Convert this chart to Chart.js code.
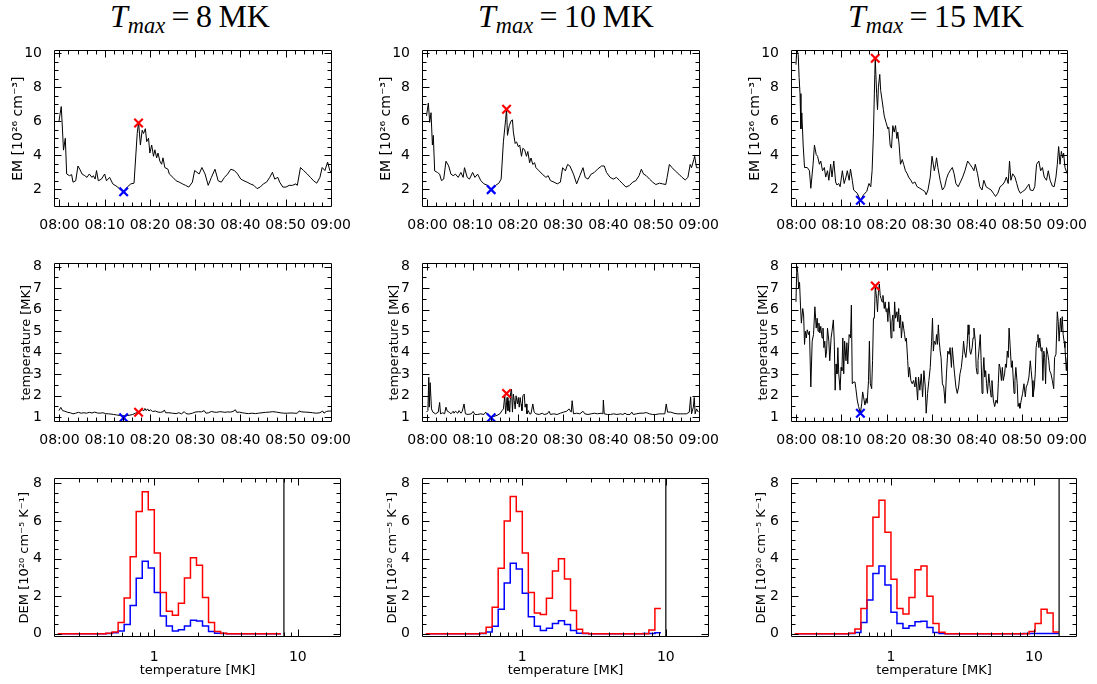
<!DOCTYPE html>
<html lang="es">
<head>
<meta charset="utf-8">
<title>EM, temperatura y DEM</title>
<script src="https://cdn.jsdelivr.net/npm/chart.js@4.4.1/dist/chart.umd.min.js"></script>
<style>
  html, body { margin: 0; padding: 0; background: #fff; }
  #figura { position: relative; width: 1097px; height: 684px; overflow: hidden; background: #fff; }
  #figura canvas { position: absolute; }
  .titulo {
    position: absolute; top: -2px; width: 300px; text-align: center; white-space: nowrap;
    font-family: "Liberation Serif", "DejaVu Serif", serif; font-size: 32px; line-height: 36px; color: #000;
  }
  .titulo sub { font-size: 0.7em; line-height: 0; vertical-align: -0.25em; }
</style>
</head>
<body>
<div id="figura"></div>
<script>
// ---------------- datos ----------------
const tmaxMK = [8, 10, 15];

const horaTicks = [0, 10, 20, 30, 40, 50, 60];          // minutos desde las 08:00
const horaEtiquetas = ["08:00", "08:10", "08:20", "08:30", "08:40", "08:50", "09:00"];
const emTicks = [2, 4, 6, 8, 10];
const tempTicks = [1, 2, 3, 4, 5, 6, 7, 8];
const demTicks = [0, 2, 4, 6, 8];
const demTempTicks = [1, 10];
const demTempMenor = [0.3, 0.4, 0.5, 0.6, 0.7, 0.8, 0.9, 2, 3, 4, 5, 6, 7, 8, 9, 20];

// EM [1e26 cm^-3]
const emHora8 = [
  -0.1, 0.4, 0.6, 0.9, 1.3, 1.6, 2.2, 2.7, 3.0, 3.6,
  4.1, 4.5, 5.0, 5.6, 6.1, 6.6, 7.2, 7.5, 7.9, 8.2,
  8.6, 9.3, 10.0, 10.4, 11.1, 11.8, 12.9, 13.6, 14.2, 15.0,
  15.8, 16.5, 17.2, 17.5, 17.9, 18.3, 18.6, 19.0, 19.3, 19.7,
  20.0, 20.4, 20.8, 21.1, 21.5, 21.8, 22.2, 22.6, 22.9, 23.3,
  24.0, 24.3, 25.1, 25.8, 26.5, 27.2, 27.9, 28.6, 29.4, 29.9,
  30.4, 30.9, 31.5, 32.2, 32.9, 33.6, 34.4, 35.1, 35.8, 36.5,
  37.2, 37.9, 38.7, 39.4, 40.1, 40.8, 41.5, 42.2, 43.0, 43.7,
  44.4, 45.1, 45.8, 46.5, 47.1, 47.6, 48.3, 48.7, 49.4, 50.1,
  50.8, 51.5, 52.3, 52.6, 53.3, 54.0, 54.8, 55.5, 56.2, 56.9,
  57.6, 58.1, 58.7, 59.3, 59.8, 60.1
];
const em8 = [
  6.0, 6.86, 5.9, 4.3, 5.0, 2.9, 2.8, 2.86, 2.42, 2.5,
  3.37, 3.18, 2.9, 2.8, 2.7, 2.9, 2.7, 2.8, 2.6, 3.1,
  2.5, 2.6, 2.9, 2.5, 2.7, 2.32, 2.13, 1.94, 1.85, 2.13,
  2.32, 2.36, 5.28, 5.94, 4.6, 5.47, 5.28, 5.56, 4.8, 5.0,
  4.13, 4.6, 3.94, 4.32, 3.85, 4.13, 3.66, 3.47, 3.85, 3.28,
  3.18, 2.9, 2.7, 2.5, 2.42, 2.32, 2.23, 2.13, 2.42, 3.1,
  3.0, 2.9, 3.28, 2.9, 2.23, 2.7, 3.18, 2.5, 2.42, 2.7,
  2.9, 3.18, 3.1, 2.9, 2.6, 2.5, 2.42, 2.32, 2.23, 2.04,
  2.13, 2.32, 2.42, 2.7, 3.0, 2.6, 2.7, 2.42, 2.13, 2.13,
  2.23, 2.23, 2.32, 2.23, 3.28, 3.1, 2.9, 2.7, 2.5, 2.36,
  2.7, 3.28, 3.1, 3.6, 3.1, 3.0
];
const emHora10 = [
  -0.2, 0.2, 0.5, 0.8, 1.1, 1.3, 1.6, 2.2, 2.7, 3.1,
  3.6, 4.1, 4.7, 5.2, 5.7, 6.2, 6.8, 7.4, 7.9, 8.2,
  8.8, 9.3, 10.0, 10.5, 11.1, 11.8, 12.5, 13.3, 14.1, 15.1,
  15.8, 16.3, 16.8, 17.3, 17.5, 17.7, 18.1, 18.5, 18.8, 19.0,
  19.4, 19.7, 20.1, 20.4, 20.8, 21.1, 21.5, 21.9, 22.2, 22.6,
  22.9, 23.3, 23.7, 24.0, 24.7, 25.4, 26.2, 26.7, 27.2, 28.0,
  28.7, 29.4, 29.9, 30.5, 31.0, 31.5, 32.3, 33.0, 33.7, 34.4,
  34.9, 35.5, 36.2, 36.9, 37.6, 38.5, 39.1, 39.6, 40.4, 41.1,
  41.8, 42.5, 43.2, 43.9, 44.7, 45.4, 46.1, 46.8, 47.3, 47.8,
  48.4, 49.1, 49.8, 50.5, 51.3, 52.0, 52.7, 53.0, 53.5, 54.1,
  54.8, 55.6, 56.3, 57.0, 57.6, 58.1, 58.4, 58.9, 59.1, 59.5,
  60.0
];
const em10 = [
  6.31, 7.07, 5.93, 6.5, 4.6, 5.17, 3.08, 2.99, 2.89, 2.51,
  2.6, 3.65, 3.37, 2.89, 2.8, 2.89, 2.7, 2.99, 2.7, 3.27,
  2.7, 2.6, 2.99, 2.7, 2.89, 2.51, 2.32, 2.23, 1.98, 2.23,
  2.36, 2.6, 4.79, 6.12, 6.72, 5.17, 5.74, 6.02, 6.08, 5.36,
  4.69, 4.79, 4.5, 4.6, 3.94, 4.41, 4.32, 3.94, 4.22, 3.56,
  3.84, 3.46, 3.56, 3.27, 3.08, 2.89, 2.7, 2.8, 2.51, 2.42,
  2.32, 2.42, 3.27, 3.08, 3.46, 3.37, 2.89, 2.32, 2.8, 3.27,
  2.7, 2.6, 2.89, 2.99, 3.18, 3.37, 3.37, 2.99, 2.7, 2.6,
  2.7, 2.51, 2.32, 2.13, 2.23, 2.42, 2.51, 2.8, 3.18, 2.89,
  2.8, 2.6, 2.42, 2.28, 2.36, 2.32, 2.28, 2.7, 3.46, 3.27,
  3.08, 2.89, 2.7, 2.55, 2.7, 3.46, 3.27, 3.75, 3.94, 3.27,
  3.27
];
const emHora15 = [
  -0.1, 0.1, 0.4, 0.6, 0.8, 1.0, 1.2, 1.5, 1.8, 2.4,
  2.9, 3.2, 3.7, 4.0, 4.4, 4.7, 5.1, 5.4, 5.8, 6.2,
  6.5, 6.9, 7.2, 7.6, 7.9, 8.3, 8.7, 9.0, 9.4, 9.7,
  10.2, 10.6, 11.0, 11.3, 11.7, 12.0, 12.4, 12.7, 13.5, 14.2,
  14.9, 15.6, 16.1, 16.5, 16.8, 17.1, 17.4, 17.5, 17.8, 18.0,
  18.2, 18.5, 18.7, 19.0, 19.3, 19.5, 19.9, 20.3, 20.5, 20.8,
  21.1, 21.4, 21.7, 22.0, 22.3, 22.5, 22.8, 23.1, 23.5, 23.8,
  24.2, 24.6, 24.9, 25.4, 25.8, 26.3, 26.8, 27.4, 28.0, 28.5,
  28.8, 29.2, 29.7, 30.1, 30.6, 30.9, 31.1, 31.4, 31.9, 32.4,
  32.9, 33.3, 33.7, 34.1, 34.6, 35.0, 35.4, 35.9, 36.4, 36.9,
  37.4, 38.0, 38.5, 39.0, 39.4, 39.7, 40.2, 40.7, 41.2, 41.6,
  42.1, 42.6, 43.2, 43.7, 44.2, 44.7, 45.2, 45.7, 46.2, 46.6,
  47.0, 47.3, 47.6, 48.0, 48.5, 48.9, 49.3, 49.7, 50.2, 50.7,
  51.2, 51.6, 51.9, 52.5, 52.9, 53.3, 53.8, 54.2, 54.6, 55.0,
  55.5, 55.9, 56.3, 56.8, 57.2, 57.6, 57.9, 58.2, 58.5, 58.8,
  59.1, 59.3, 59.6, 60.1
];
const em15 = [
  9.32, 10.3, 9.9, 8.57, 7.62, 5.55, 6.49, 4.6, 3.28, 3.28,
  3.09, 2.06, 3.47, 4.6, 4.04, 3.94, 3.47, 3.66, 3.09, 3.28,
  2.72, 3.09, 2.53, 3.47, 2.72, 3.66, 2.43, 2.25, 2.34, 2.15,
  3.09, 2.34, 2.72, 3.09, 2.53, 3.19, 2.53, 1.96, 1.77, 1.36,
  1.68, 1.87, 2.34, 2.15, 3.09, 5.36, 8.75, 9.7, 7.62, 6.68,
  8.0, 8.75, 7.81, 7.25, 6.68, 6.3, 5.92, 5.55, 5.64, 4.6,
  4.42, 5.74, 5.36, 5.74, 4.98, 5.36, 4.6, 3.47, 3.75, 3.47,
  3.09, 2.91, 2.72, 2.53, 2.34, 2.43, 2.15, 2.06, 1.96, 1.87,
  1.68, 1.96, 2.72, 3.94, 3.09, 3.47, 3.85, 3.28, 2.53, 1.96,
  2.15, 2.62, 2.91, 3.09, 3.28, 2.91, 2.34, 2.15, 2.43, 2.72,
  3.09, 3.66, 3.47, 3.28, 3.09, 3.47, 2.91, 2.15, 1.96, 2.53,
  2.15, 2.06, 1.96, 1.77, 1.58, 1.77, 2.15, 2.25, 2.43, 2.72,
  2.34, 3.66, 2.53, 2.91, 2.72, 2.34, 1.96, 1.77, 1.87, 1.96,
  2.15, 2.3, 1.96, 1.92, 2.15, 3.47, 3.66, 3.09, 3.28, 2.72,
  2.53, 3.09, 2.53, 2.19, 2.15, 2.72, 3.47, 4.51, 3.47, 4.23,
  3.85, 4.13, 3.28, 2.91
];

// temperatura [MK]
const tempHora8 = [
  -0.1, 0.3, 0.7, 1.2, 1.8, 2.4, 3.0, 3.6, 4.2, 4.8,
  5.4, 6.0, 6.6, 7.2, 7.8, 8.4, 9.0, 9.6, 10.2, 10.8,
  11.4, 12.0, 12.6, 13.2, 13.8, 14.4, 15.0, 15.6, 16.2, 16.8,
  17.5, 18.0, 18.3, 18.6, 18.9, 19.2, 19.5, 19.8, 20.1, 20.6,
  21.2, 21.8, 22.4, 23.0, 23.2, 23.5, 24.2, 25.0, 25.8, 26.4,
  27.0, 27.6, 28.0, 28.6, 29.4, 30.0, 30.8, 31.4, 32.0, 32.4,
  33.0, 33.6, 34.2, 34.8, 35.4, 36.0, 36.6, 37.2, 37.8, 38.4,
  38.9, 39.2, 39.8, 40.4, 41.0, 41.8, 42.6, 43.4, 44.0, 44.8,
  45.6, 46.4, 47.2, 48.0, 48.8, 49.6, 50.4, 51.2, 52.0, 52.6,
  53.0, 53.6, 54.4, 55.2, 56.0, 56.8, 57.6, 58.2, 58.5, 59.0,
  59.6, 60.1
];
const temp8 = [
  1.3, 1.45, 1.3, 1.27, 1.22, 1.2, 1.15, 1.18, 1.22, 1.18,
  1.2, 1.18, 1.22, 1.19, 1.23, 1.19, 1.18, 1.2, 1.16, 1.15,
  1.14, 1.12, 1.1, 1.08, 1.06, 1.06, 1.07, 1.09, 1.12, 1.18,
  1.23, 1.28, 1.36, 1.28, 1.4, 1.3, 1.38, 1.28, 1.34, 1.26,
  1.28, 1.23, 1.22, 1.26, 1.33, 1.2, 1.2, 1.18, 1.16, 1.2,
  1.15, 1.25, 1.16, 1.14, 1.18, 1.23, 1.25, 1.24, 1.3, 1.18,
  1.2, 1.26, 1.23, 1.22, 1.25, 1.24, 1.22, 1.24, 1.23, 1.26,
  1.34, 1.22, 1.23, 1.2, 1.18, 1.16, 1.18, 1.16, 1.18, 1.2,
  1.22, 1.23, 1.25, 1.23, 1.2, 1.18, 1.18, 1.19, 1.18, 1.18,
  1.28, 1.24, 1.23, 1.22, 1.2, 1.18, 1.2, 1.28, 1.18, 1.26,
  1.28, 1.28
];
const tempHora10 = [
  -0.2, 0.1, 0.3, 0.4, 0.6, 0.9, 1.2, 1.8, 2.4, 2.7,
  2.9, 3.4, 3.8, 4.1, 4.4, 4.8, 5.2, 5.7, 5.9, 6.2,
  6.7, 7.0, 7.4, 7.7, 8.1, 8.4, 9.0, 9.7, 10.1, 10.5,
  11.1, 11.8, 12.5, 12.9, 13.4, 14.0, 14.7, 15.4, 16.0, 16.5,
  16.8, 17.1, 17.3, 17.6, 17.8, 18.0, 18.2, 18.4, 18.6, 18.8,
  19.0, 19.2, 19.4, 19.6, 19.9, 20.1, 20.3, 20.5, 20.7, 20.9,
  21.1, 21.4, 21.6, 21.8, 22.0, 22.3, 22.6, 22.9, 23.3, 23.6,
  24.0, 24.7, 25.4, 25.8, 26.5, 26.9, 27.2, 27.9, 28.7, 29.4,
  30.1, 30.8, 31.3, 31.8, 32.0, 32.3, 33.0, 33.7, 34.4, 34.8,
  35.5, 36.2, 36.9, 37.6, 38.4, 38.8, 38.9, 39.1, 39.8, 40.5,
  41.2, 41.9, 42.7, 43.2, 43.7, 44.1, 44.8, 45.2, 45.5, 46.2,
  47.0, 47.7, 48.4, 49.1, 49.8, 50.5, 51.3, 52.0, 52.5, 52.8,
  53.1, 53.8, 54.5, 55.2, 55.9, 56.6, 57.3, 57.9, 58.2, 58.4,
  58.8, 59.0, 59.2, 59.5, 59.9
];
const temp10 = [
  1.23, 1.3, 2.85, 1.46, 2.6, 1.38, 1.23, 1.15, 1.23, 1.68,
  1.15, 1.2, 1.15, 1.46, 1.27, 1.23, 1.15, 1.27, 1.18, 1.27,
  1.18, 1.3, 1.18, 1.27, 1.61, 1.15, 1.12, 1.15, 1.26, 1.12,
  1.12, 1.15, 1.12, 1.23, 1.08, 1.03, 1.03, 1.08, 1.15, 1.3,
  1.38, 1.99, 1.15, 1.91, 1.3, 1.76, 1.23, 2.14, 2.29, 1.23,
  2.07, 1.76, 1.38, 1.99, 1.61, 1.91, 1.46, 1.91, 1.61, 1.3,
  1.99, 2.07, 1.46, 1.61, 1.15, 1.3, 1.15, 1.15, 1.61, 1.23,
  1.15, 1.12, 1.18, 1.12, 1.15, 1.27, 1.12, 1.15, 1.12, 1.18,
  1.23, 1.27, 1.38, 1.23, 1.76, 1.15, 1.18, 1.15, 1.27, 1.15,
  1.12, 1.15, 1.18, 1.15, 1.18, 1.15, 1.79, 1.15, 1.12, 1.12,
  1.15, 1.12, 1.15, 1.12, 1.18, 1.12, 1.12, 1.23, 1.12, 1.15,
  1.18, 1.18, 1.21, 1.15, 1.12, 1.12, 1.15, 1.15, 1.15, 1.61,
  1.23, 1.23, 1.18, 1.15, 1.15, 1.15, 1.15, 1.23, 1.94, 1.15,
  1.46, 1.91, 1.15, 1.38, 1.23
];
const tempHora15 = [
  -0.1, 0.1, 0.3, 0.5, 0.7, 0.9, 1.1, 1.4, 1.6, 1.8,
  2.0, 2.2, 2.4, 2.7, 2.9, 3.2, 3.5, 3.8, 4.1, 4.4,
  4.6, 4.8, 5.0, 5.2, 5.4, 5.7, 5.9, 6.1, 6.3, 6.5,
  6.7, 6.9, 7.2, 7.4, 7.7, 7.9, 8.2, 8.4, 8.6, 8.8,
  9.0, 9.2, 9.4, 9.7, 9.9, 10.1, 10.3, 10.5, 10.7, 11.0,
  11.2, 11.4, 11.7, 12.0, 12.2, 12.4, 12.7, 13.0, 13.2, 13.5,
  13.8, 14.2, 14.5, 14.7, 14.9, 15.2, 15.5, 15.7, 16.0, 16.2,
  16.4, 16.7, 16.9, 17.1, 17.3, 17.5, 17.8, 18.0, 18.2, 18.4,
  18.6, 18.8, 19.0, 19.2, 19.5, 19.7, 19.9, 20.1, 20.3, 20.5,
  20.8, 21.0, 21.2, 21.4, 21.6, 21.8, 22.0, 22.3, 22.5, 22.7,
  22.9, 23.1, 23.3, 23.6, 23.8, 24.0, 24.2, 24.4, 24.7, 24.9,
  25.1, 25.4, 25.7, 26.0, 26.3, 26.5, 26.7, 26.9, 27.1, 27.4,
  27.7, 28.0, 28.3, 28.6, 28.8, 29.1, 29.4, 29.7, 30.0, 30.2,
  30.4, 30.6, 30.9, 31.1, 31.3, 31.5, 31.7, 31.9, 32.1, 32.4,
  32.7, 33.0, 33.3, 33.6, 33.9, 34.1, 34.4, 34.6, 34.9, 35.1,
  35.4, 35.7, 36.0, 36.3, 36.6, 36.9, 37.1, 37.3, 37.6, 37.9,
  38.1, 38.3, 38.5, 38.7, 39.0, 39.2, 39.4, 39.7, 39.9, 40.1,
  40.3, 40.5, 40.8, 41.0, 41.2, 41.4, 41.6, 41.8, 42.0, 42.2,
  42.4, 42.7, 42.9, 43.2, 43.4, 43.7, 44.0, 44.3, 44.6, 44.8,
  45.0, 45.2, 45.5, 45.7, 45.9, 46.2, 46.4, 46.6, 46.8, 47.0,
  47.2, 47.5, 47.7, 47.9, 48.1, 48.3, 48.5, 48.7, 49.0, 49.2,
  49.4, 49.6, 49.9, 50.2, 50.5, 50.8, 51.0, 51.3, 51.6, 51.9,
  52.1, 52.3, 52.5, 52.8, 53.0, 53.2, 53.4, 53.6, 53.8, 54.0,
  54.3, 54.5, 54.7, 54.9, 55.1, 55.3, 55.5, 55.8, 56.0, 56.2,
  56.5, 56.8, 57.1, 57.3, 57.6, 57.9, 58.1, 58.3, 58.6, 58.8,
  59.0, 59.2, 59.4, 59.6, 59.9, 60.1
];
const temp15 = [
  6.36, 8.03, 7.73, 6.97, 7.27, 6.21, 5.37, 6.05, 5.75, 4.38,
  4.99, 4.68, 5.06, 4.84, 4.99, 2.4, 4.53, 4.84, 6.13, 5.14,
  5.6, 4.99, 5.37, 4.91, 5.22, 4.68, 5.14, 4.23, 4.53, 3.77,
  4.07, 5.14, 4.53, 3.62, 4.68, 4.99, 5.52, 4.53, 2.25, 3.47,
  3.01, 4.23, 3.01, 2.25, 3.31, 3.16, 4.68, 3.01, 4.53, 3.62,
  4.46, 3.47, 4.84, 4.68, 6.21, 2.55, 2.63, 2.63, 2.32, 1.79,
  1.49, 1.18, 1.64, 2.17, 1.94, 1.56, 1.87, 1.64, 2.7, 4.53,
  2.55, 2.32, 3.62, 5.6, 5.6, 7.12, 6.51, 5.9, 6.81, 7.19,
  6.66, 6.51, 6.36, 6.66, 6.05, 6.36, 5.9, 6.05, 5.44, 6.36,
  5.6, 4.68, 5.44, 5.75, 4.99, 6.36, 5.6, 5.9, 5.44, 6.05,
  5.14, 5.75, 4.68, 5.44, 5.14, 4.84, 4.53, 4.68, 3.62, 2.86,
  3.31, 2.7, 2.55, 2.7, 2.4, 2.86, 2.4, 1.79, 2.86, 2.25,
  3.01, 1.94, 3.16, 2.4, 1.18, 2.1, 2.7, 3.31, 4.53, 5.6,
  4.07, 4.53, 4.38, 4.84, 4.38, 5.29, 4.53, 4.07, 3.77, 2.55,
  2.4, 1.64, 3.01, 4.07, 3.92, 4.23, 3.31, 4.23, 3.47, 3.01,
  2.4, 2.1, 2.4, 3.01, 3.31, 3.92, 4.53, 4.07, 3.77, 4.38,
  5.29, 4.84, 4.07, 3.92, 4.23, 4.68, 5.14, 4.53, 3.31, 3.01,
  3.62, 4.07, 4.84, 3.62, 2.1, 3.01, 3.77, 2.86, 3.16, 2.55,
  2.1, 3.01, 2.55, 1.94, 2.7, 1.79, 1.49, 1.79, 1.64, 2.55,
  3.47, 3.31, 2.7, 3.31, 2.7, 3.01, 3.47, 3.31, 4.07, 3.77,
  5.14, 4.07, 3.31, 3.62, 2.86, 2.1, 2.7, 3.31, 2.55, 1.49,
  1.64, 1.41, 1.79, 2.1, 2.55, 1.94, 2.4, 2.55, 2.86, 3.62,
  3.16, 2.7, 1.94, 2.4, 3.01, 4.23, 4.53, 4.84, 4.23, 4.68,
  4.07, 4.23, 2.7, 4.07, 3.77, 2.55, 4.23, 3.92, 3.62, 3.16,
  3.01, 2.7, 2.32, 3.77, 3.92, 5.9, 5.44, 4.53, 5.6, 4.99,
  5.67, 4.84, 4.53, 4.23, 3.16, 3.77
];

// marcas: mínimo antes del evento (azul) y máximo (rojo)
const marcaAzulHora = [14.2, 14.1, 14.2];
const marcaRojaHora = [17.5, 17.5, 17.5];
const emAzul = [1.85, 1.98, 1.36];
const emRojo = [5.9, 6.7, 9.7];
const tempAzul = [0.97, 0.97, 1.18];
const tempRoja = [1.22, 2.1, 7.1];

// DEM [1e20 cm^-5 K^-1]; bordes de bin en log10(T/MK)
const demLogBordes = [
  -0.672, -0.630, -0.588, -0.546, -0.504, -0.462, -0.420, -0.378, -0.336, -0.294,
  -0.252, -0.210, -0.168, -0.126, -0.084, -0.042, 0.000, 0.042, 0.084, 0.126,
  0.168, 0.210, 0.252, 0.294, 0.336, 0.378, 0.420, 0.462, 0.504, 0.546,
  0.588, 0.630, 0.672, 0.714, 0.756, 0.798, 0.840, 0.882, 0.924, 0.966,
  1.008, 1.050, 1.092, 1.134, 1.176
];
const demRojo8 = [
  0, 0, 0, 0, 0, 0, 0, 0, 0.03, 0.1,
  0.6, 1.9, 4.1, 6.5, 7.55, 6.6, 4.3, 2.2, 1.2, 0.98,
  1.63, 2.96, 4.04, 3.65, 1.93, 0.6, 0.12, 0.03, 0, 0,
  0, 0, 0, 0, 0, 0, 0
];
const demAzul8 = [
  0, 0, 0, 0, 0, 0, 0, 0, 0.02, 0.05,
  0.15, 0.5, 1.5, 2.95, 3.85, 3.5, 2.2, 0.95, 0.42, 0.15,
  0.22, 0.42, 0.72, 0.68, 0.42, 0.12, 0.03, 0.01, 0, 0,
  0, 0, 0, 0, 0, 0, 0
];
const demRojo10 = [
  0, 0, 0, 0, 0, 0, 0, 0, 0, 0.03,
  0.35, 1.41, 3.48, 6.0, 7.3, 6.5, 4.3, 2.2, 1.1, 1.03,
  1.89, 3.34, 3.99, 2.91, 1.24, 0.24, 0.03, 0, 0, 0,
  0, 0, 0, 0, 0, 0, 0, 0.2, 1.35
];
const demAzul10 = [
  0, 0, 0, 0, 0, 0, 0, 0, 0, 0.02,
  0.1, 0.4, 1.3, 2.7, 3.75, 3.45, 2.15, 0.9, 0.4, 0.17,
  0.3, 0.55, 0.7, 0.5, 0.17, 0.03, 0.01, 0, 0, 0,
  0, 0, 0, 0, 0, 0, 0.01, 0.02, 0.05
];
const demRojo15 = [
  0, 0, 0, 0, 0, 0, 0, 0, 0, 0.03,
  0.25, 1.35, 3.6, 6.2, 7.1, 5.4, 2.9, 1.35, 1.05, 1.93,
  3.4, 3.6, 2.0, 0.55, 0.08, 0, 0, 0, 0, 0,
  0, 0, 0, 0, 0, 0, 0, 0, 0, 0.12,
  0.55, 1.3, 1.1, 0.09
];
const demAzul15 = [
  0, 0, 0, 0, 0, 0, 0, 0, 0, 0.02,
  0.07, 0.6, 1.8, 3.2, 3.6, 2.6, 1.15, 0.55, 0.29, 0.43,
  0.64, 0.67, 0.34, 0.07, 0.01, 0, 0, 0, 0, 0,
  0, 0, 0, 0, 0, 0, 0, 0, 0.01, 0.01,
  0.01, 0.01, 0.01, 0.01
];

// ---------------- ejes ----------------
const rangoHora = [-1.2, 60.3];
const rangoEm = [0.96, 10.16];
const rangoTemp = [0.77, 8.15];
const rangoDem = [-0.17, 8.26];
const rangoDemTemp = [0.2, 20];

function paso(ini, fin, d) {
  const out = [];
  for (let v = ini; v <= fin + 1e-9; v += d) out.push(+v.toFixed(3));
  return out;
}
const horaMenor = paso(0, 60, 2);
const emMenor = paso(1, 10, 0.5);
const tempMenor = paso(1, 8, 0.5);
const demMenor = paso(0, 8, 0.5);

// ---------------- disposición ----------------
const colIzq = [54, 422, 791];
const colAncho = [287, 287, 286];
const filaArriba = [46, 259, 474];
const filaAlto = [161, 163, 163];
const tituloCentro = [190, 566, 936];
const MARGEN_IZQ = 55, MARGEN_SUP = 8, MARGEN_DER = 12, MARGEN_INF = 45;

Chart.defaults.font.family = '"DejaVu Sans", "Liberation Sans", sans-serif';
Chart.defaults.color = '#000';

// marco tipo IDL: caja completa y marcas hacia dentro en los cuatro lados
const marcoIDL = {
  id: 'marco',
  afterDraw(chart, args, o) {
    const { ctx, chartArea: a } = chart;
    const xs = chart.scales.x, ys = chart.scales.y;
    const L = Math.round(a.left) + 0.5, R = Math.round(a.right) - 0.5;
    const T = Math.round(a.top) + 0.5, B = Math.round(a.bottom) - 0.5;
    ctx.save();
    ctx.strokeStyle = '#000';
    ctx.lineWidth = 1;
    ctx.beginPath();
    ctx.rect(L, T, R - L, B - T);
    const marcasX = (vals, largo) => vals.forEach(v => {
      const p = Math.round(xs.getPixelForValue(v)) + 0.5;
      if (p <= L + 1 || p >= R - 1) return;
      ctx.moveTo(p, B); ctx.lineTo(p, B - largo);
      ctx.moveTo(p, T); ctx.lineTo(p, T + largo);
    });
    const marcasY = (vals, largo) => vals.forEach(v => {
      const p = Math.round(ys.getPixelForValue(v)) + 0.5;
      if (p <= T + 1 || p >= B - 1) return;
      ctx.moveTo(L, p); ctx.lineTo(L + largo, p);
      ctx.moveTo(R, p); ctx.lineTo(R - largo, p);
    });
    marcasX(o.xMayor, 7); marcasX(o.xMenor, 4);
    marcasY(o.yMayor, 7); marcasY(o.yMenor, 4);
    ctx.stroke();
    ctx.restore();
  }
};

const figura = document.getElementById('figura');

function ejeX(tipo, rango, ticks, etiquetas, titulo, sep) {
  return {
    type: tipo, min: rango[0], max: rango[1],
    grid: { display: false }, border: { display: false },
    afterBuildTicks: s => { s.ticks = ticks.map(v => ({ value: v })); },
    afterFit: s => { s.height = MARGEN_INF; },
    ticks: {
      autoSkip: false, maxRotation: 0, minRotation: 0, padding: sep,
      font: { size: 14 },
      callback: (v, i) => etiquetas[i]
    },
    title: titulo
      ? { display: true, text: titulo, font: { size: 13 }, padding: { top: 0, bottom: 4 } }
      : { display: false }
  };
}

function ejeY(rango, ticks, titulo, tam, sep) {
  return {
    type: 'linear', min: rango[0], max: rango[1],
    grid: { display: false }, border: { display: false },
    afterBuildTicks: s => { s.ticks = ticks.map(v => ({ value: v })); },
    afterFit: s => { s.width = MARGEN_IZQ; },
    ticks: { autoSkip: false, padding: 4, font: { size: 14 }, callback: v => String(v) },
    title: { display: true, text: titulo, font: { size: tam }, padding: { top: sep, bottom: 0 } }
  };
}

function panel(col, fila, datasets, x, y, marcas) {
  const c = document.createElement('canvas');
  const w = MARGEN_IZQ + colAncho[col] + MARGEN_DER;
  const h = MARGEN_SUP + filaAlto[fila] + MARGEN_INF;
  c.width = w; c.height = h;
  c.style.left = (colIzq[col] - MARGEN_IZQ) + 'px';
  c.style.top = (filaArriba[fila] - MARGEN_SUP) + 'px';
  c.style.width = w + 'px'; c.style.height = h + 'px';
  figura.appendChild(c);
  new Chart(c, {
    type: 'line',
    data: { datasets },
    options: {
      responsive: false, animation: false, events: [],
      layout: { padding: { top: MARGEN_SUP, right: MARGEN_DER, left: 0, bottom: 0 } },
      plugins: { legend: { display: false }, tooltip: { enabled: false }, marco: marcas },
      scales: { x, y }
    },
    plugins: [marcoIDL]
  });
}

const serie = (ts, vs) => ts.map((t, i) => ({ x: t, y: vs[i] }));

// histograma: un punto en el borde izquierdo de cada bin y otro que cierra el último
function escalones(vals) {
  return demLogBordes.slice(0, vals.length + 1)
    .map((l, i) => ({ x: Math.pow(10, l), y: vals[Math.min(i, vals.length - 1)] }));
}

function marca(color, t, v) {
  return {
    data: [{ x: t, y: v }], showLine: false,
    pointStyle: 'crossRot', pointRadius: 6, pointBorderWidth: 2.2,
    pointBorderColor: color, pointBackgroundColor: color, borderColor: color
  };
}

function curva(ts, vs) {
  return { data: serie(ts, vs), borderColor: '#000', borderWidth: 1, pointRadius: 0, tension: 0 };
}

const emHoras = [emHora8, emHora10, emHora15];
const emSeries = [em8, em10, em15];
const tempHoras = [tempHora8, tempHora10, tempHora15];
const tempSeries = [temp8, temp10, temp15];
const demRojos = [demRojo8, demRojo10, demRojo15];
const demAzules = [demAzul8, demAzul10, demAzul15];

for (let k = 0; k < 3; k++) {
  const t = document.createElement('div');
  t.className = 'titulo';
  t.style.left = (tituloCentro[k] - 150) + 'px';
  t.innerHTML = '<i>T</i><sub><i>max</i></sub>&thinsp;=&thinsp;' + tmaxMK[k] + '&thinsp;MK';
  figura.appendChild(t);

  panel(k, 0, [
    marca('#ff0000', marcaRojaHora[k], emRojo[k]),
    marca('#0000ff', marcaAzulHora[k], emAzul[k]),
    curva(emHoras[k], emSeries[k])
  ],
    ejeX('linear', rangoHora, horaTicks, horaEtiquetas, null, 2),
    ejeY(rangoEm, emTicks, 'EM [10²⁶ cm⁻³]', 14, 11),
    { xMayor: horaTicks, xMenor: horaMenor, yMayor: emTicks, yMenor: emMenor });

  panel(k, 1, [
    marca('#ff0000', marcaRojaHora[k], tempRoja[k]),
    marca('#0000ff', marcaAzulHora[k], tempAzul[k]),
    curva(tempHoras[k], tempSeries[k])
  ],
    ejeX('linear', rangoHora, horaTicks, horaEtiquetas, null, 2),
    ejeY(rangoTemp, tempTicks, 'temperature [MK]', 13, 20),
    { xMayor: horaTicks, xMenor: horaMenor, yMayor: tempTicks, yMenor: tempMenor });

  panel(k, 2, [
    { data: [{ x: tmaxMK[k], y: rangoDem[0] }, { x: tmaxMK[k], y: rangoDem[1] }],
      borderColor: '#333', borderWidth: 1.5, pointRadius: 0 },
    { data: escalones(demRojos[k]), borderColor: '#ff0000', borderWidth: 1.5, pointRadius: 0, stepped: 'before' },
    { data: escalones(demAzules[k]), borderColor: '#0000ff', borderWidth: 1.5, pointRadius: 0, stepped: 'before' }
  ],
    ejeX('logarithmic', rangoDemTemp, demTempTicks, demTempTicks.map(String), 'temperature [MK]', 4),
    ejeY(rangoDem, demTicks, 'DEM [10²⁰ cm⁻⁵ K⁻¹]', 13, 18),
    { xMayor: demTempTicks, xMenor: demTempMenor, yMayor: demTicks, yMenor: demMenor });
}
</script>
</body>
</html>
